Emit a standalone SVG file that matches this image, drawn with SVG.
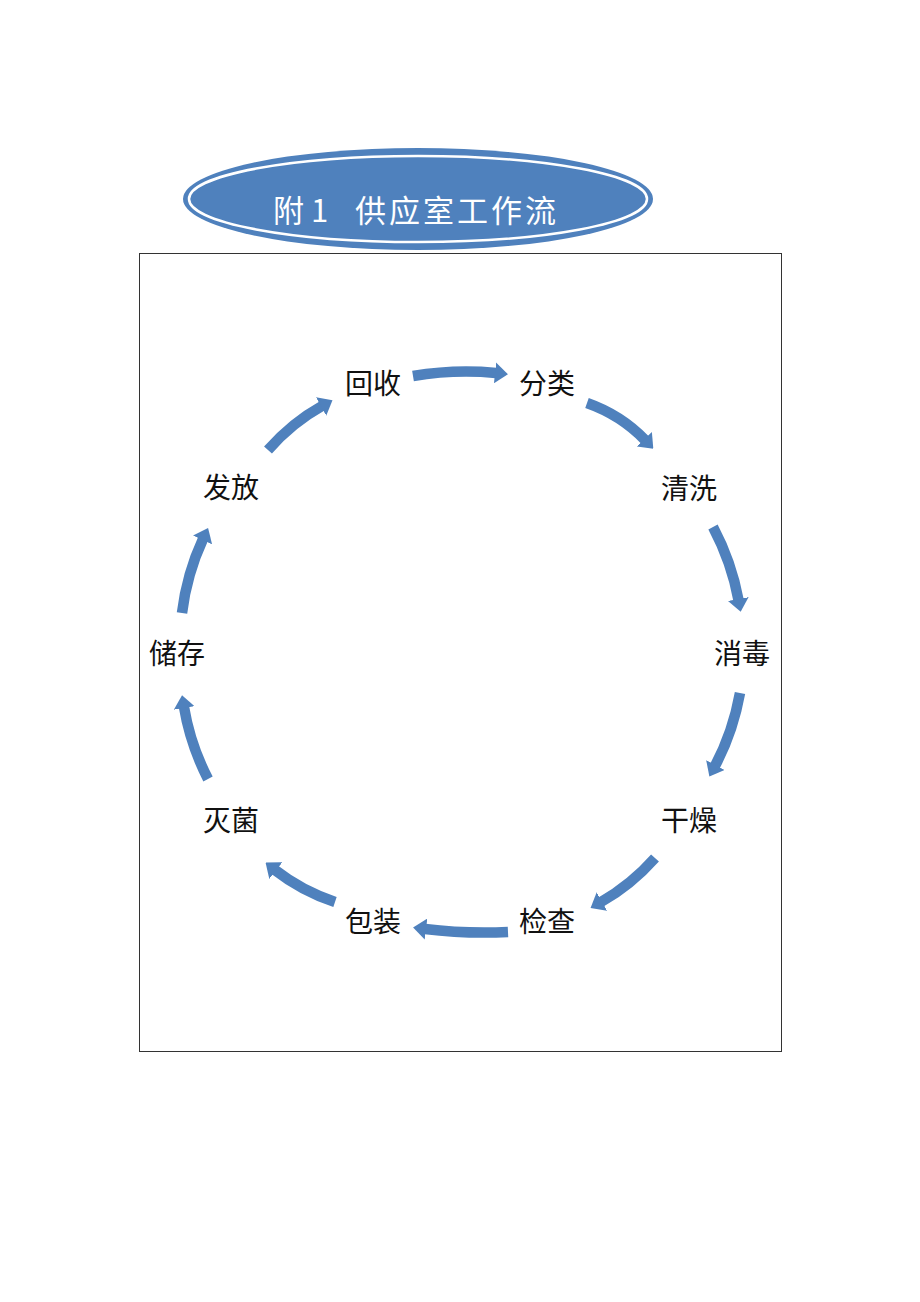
<svg xmlns="http://www.w3.org/2000/svg" width="920" height="1302" viewBox="0 0 920 1302">
<style>
.lbl{font-family:"Noto Sans CJK SC","Noto Sans CJK JP",sans-serif;font-size:28px;fill:#111;text-anchor:middle;dominant-baseline:central}
.ttl{font-family:"Noto Sans CJK SC","Noto Sans CJK JP",sans-serif;font-size:31px;fill:#fff}
.arr{fill:none;stroke:#4F81BD;stroke-width:10.5;marker-end:url(#head)}
</style>
<defs>
<marker id="head" markerUnits="userSpaceOnUse" markerWidth="13" markerHeight="21" viewBox="0 0 13 21" refX="1" refY="10.5" orient="auto">
<path d="M0,0 L13,10.5 L0,21 Z" fill="#4F81BD"/>
</marker>
</defs>
<rect width="920" height="1302" fill="#fff"/>
<g id="title">
<ellipse cx="418" cy="199" rx="235" ry="51" fill="#4F81BD"/>
<ellipse cx="418" cy="199" rx="229" ry="43" fill="none" stroke="#fff" stroke-width="2.5"/>
<text class="ttl" y="222" xml:space="preserve"><tspan x="273">附</tspan><tspan x="311">1</tspan><tspan x="355" letter-spacing="3">供应室工作流</tspan></text>
</g>
<rect id="frame" x="139.5" y="253.5" width="642" height="798" fill="none" stroke="#333" stroke-width="1"/>
<g id="connectors">
<path class="arr" d="M413,376 Q455,369 496,373"/>
<path class="arr" d="M587,403 Q621,415 645,440"/>
<path class="arr" d="M713,527 Q731.5,562 738.5,600"/>
<path class="arr" d="M740,693 Q733,732 715,766"/>
<path class="arr" d="M655,858 Q631,885 601,902"/>
<path class="arr" d="M508,932 Q466,934 425,929"/>
<path class="arr" d="M335,902 Q301.6,890.8 275,870"/>
<path class="arr" d="M208,779 Q190.2,744.3 184,707"/>
<path class="arr" d="M182,613 Q186.8,573.9 203,539"/>
<path class="arr" d="M268,450 Q291.7,422.9 322,406"/>
</g>
<g id="n-huishou"><text class="lbl" x="373" y="382">回收</text></g>
<g id="n-fenlei"><text class="lbl" x="547" y="382">分类</text></g>
<g id="n-qingxi"><text class="lbl" x="689" y="487">清洗</text></g>
<g id="n-xiaodu"><text class="lbl" x="742" y="652">消毒</text></g>
<g id="n-ganzao"><text class="lbl" x="689" y="819">干燥</text></g>
<g id="n-jiancha"><text class="lbl" x="547" y="920">检查</text></g>
<g id="n-baozhuang"><text class="lbl" x="373" y="920">包装</text></g>
<g id="n-miejun"><text class="lbl" x="231" y="819">灭菌</text></g>
<g id="n-chucun"><text class="lbl" x="177" y="652">储存</text></g>
<g id="n-fafang"><text class="lbl" x="231" y="486">发放</text></g>
</svg>
